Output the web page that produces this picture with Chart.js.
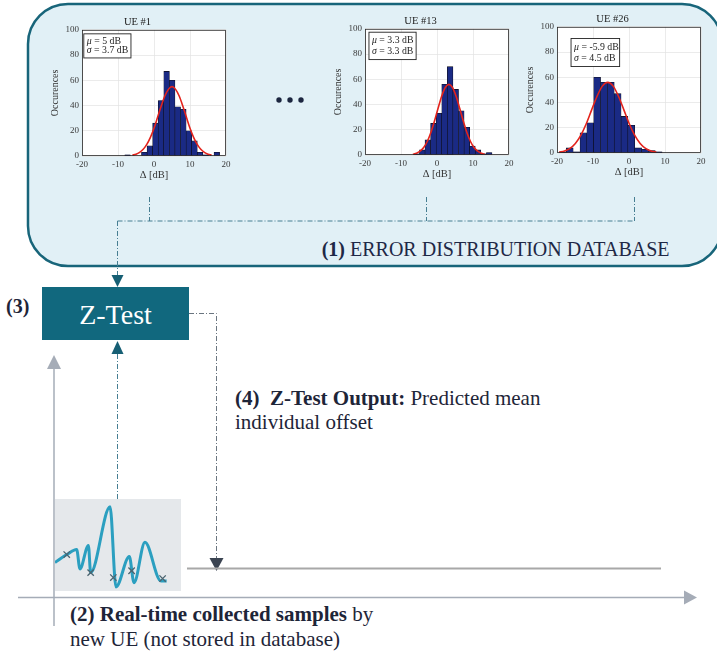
<!DOCTYPE html>
<html>
<head>
<meta charset="utf-8">
<script src="https://cdn.jsdelivr.net/npm/chart.js@4.4.1/dist/chart.umd.min.js"></script>
<style>
  html, body { margin: 0; padding: 0; background: #ffffff; }
  body { width: 717px; height: 656px; position: relative; overflow: hidden; font-family: 'Liberation Serif', serif; }
  svg, canvas { position: absolute; }
</style>
</head>
<body>
<svg width="717" height="656" style="left:0;top:0" font-family="Liberation Serif, serif">
  <!-- database panel -->
  <path d="M68 4 H682 A40 40 0 0 1 722 44 V226 A40 40 0 0 1 682 266 H68 A40 40 0 0 1 28 226 V44 A40 40 0 0 1 68 4 Z"
        fill="#e1f0f6" stroke="#18657a" stroke-width="2.5"/>
  <circle cx="279" cy="100" r="2.7" fill="#1c2640"/>
  <circle cx="290" cy="100" r="2.7" fill="#1c2640"/>
  <circle cx="301" cy="100" r="2.7" fill="#1c2640"/>
  <g stroke="#467e92" stroke-width="1" stroke-dasharray="5 2 1 2" fill="none">
    <path d="M149.5 197 V221"/>
    <path d="M426.5 197 V221"/>
    <path d="M634.5 197 V221"/>
    <path d="M117.5 221 H634.5"/>
    <path d="M117.5 221 V276"/>
    <path d="M117.5 354 V499"/>
  </g>
  <polygon points="111.5,275 123.5,275 117.5,287" fill="#165f74"/>
  <polygon points="111.5,354 123.5,354 117.5,341" fill="#165f74"/>
  <text x="321.7" y="256" font-size="20" fill="#1e2846"><tspan font-weight="bold">(1)</tspan> ERROR DISTRIBUTION DATABASE</text>

  <!-- Z-test block -->
  <rect x="42" y="287" width="147" height="53" fill="#11687e"/>
  <text x="115.5" y="324" font-size="28" fill="#ffffff" text-anchor="middle">Z-Test</text>
  <text x="6" y="313" font-size="20" font-weight="bold" fill="#1e2538">(3)</text>

  <!-- output path -->
  <path d="M189 313.5 H216.5 V558" stroke="#6a7580" stroke-width="1" stroke-dasharray="5 2 1 2" fill="none"/>
  <polygon points="209.5,558 223.5,558 216.5,571" fill="#3b4452"/>
  <path d="M187 568.5 H661" stroke="#a8a8a8" stroke-width="2"/>
  <text x="235" y="405" font-size="21" fill="#1e2538"><tspan font-weight="bold">(4)&#160; Z-Test Output:</tspan> Predicted mean</text>
  <text x="235" y="429" font-size="21" fill="#1e2538">individual offset</text>

  <!-- axes of the sample sketch -->
  <path d="M18 597.5 H684" stroke="#a5acb7" stroke-width="1.5"/>
  <polygon points="684,590.5 684,604.5 697,597.5" fill="#a5acb7"/>
  <path d="M54 368 V626" stroke="#a5acb7" stroke-width="1.5"/>
  <polygon points="47,369 61,369 54,355" fill="#a5acb7"/>
  <text x="70" y="621" font-size="21" fill="#1e2538"><tspan font-weight="bold">(2) Real-time collected samples</tspan> by</text>
  <text x="70" y="646" font-size="21" fill="#1e2538">new UE (not stored in database)</text>
</svg>

<canvas id="h0"></canvas>
<canvas id="h1"></canvas>
<canvas id="h2"></canvas>
<canvas id="wave"></canvas>

<script>
// ---------------- data ----------------
const ueTitles = ['UE #1', 'UE #13', 'UE #26'];
const ueMu = [5, 3.3, -5.9];
const ueSigma = [3.7, 3.3, 4.5];
const xTicks = [-20, -10, 0, 10, 20];
const yTicks = [0, 20, 40, 60, 80, 100];

const ue1BinCenters = [-7.35, -2.7, -1.15, 0.4, 1.95, 3.5, 5.05, 6.6, 8.15, 9.7, 11.25, 12.8, 14.35, 17.45];
const ue1Counts     = [1, 3, 8, 26, 44, 67, 60, 39, 37, 20, 12, 3, 1, 3];
const ue1FitX = [-6, -5, -4, -3, -2, -1, 0, 1, 2, 3, 4, 5, 6, 7, 8, 9, 10, 11, 12, 13, 14, 15, 16];
const ue1FitY = [0.7, 1.4, 2.9, 5.3, 9.2, 14.8, 22, 30.7, 39.6, 47.5, 52.8, 55, 52.8, 47.5, 39.6, 30.7, 22, 14.8, 9.2, 5.3, 2.9, 1.4, 0.7];

const ue13BinCenters = [-5.65, -4.1, -2.55, -1.0, 0.55, 2.1, 3.65, 5.2, 6.75, 8.3, 9.85, 11.4, 12.95, 14.5];
const ue13Counts     = [1, 4, 12, 25, 33, 56, 70, 52, 35, 22, 7, 4, 1, 2];
const ue13FitX = [-6.7, -5.7, -4.7, -3.7, -2.7, -1.7, -0.7, 0.3, 1.3, 2.3, 3.3, 4.3, 5.3, 6.3, 7.3, 8.3, 9.3, 10.3, 11.3, 12.3, 13.3];
const ue13FitY = [0.6, 1.4, 3.0, 5.9, 10.7, 17.8, 26.9, 37, 46.6, 53.5, 56, 53.5, 46.6, 37, 26.9, 17.8, 10.7, 5.9, 3.0, 1.4, 0.6];

const ue26BinCenters = [-18.35, -16.45, -14.55, -12.65, -10.75, -8.85, -6.95, -5.05, -3.15, -1.25, 0.65, 2.55, 4.45, 6.35, 8.25];
const ue26Counts     = [1, 4, 1, 16, 24, 60, 56, 56, 47, 29, 22, 4, 3, 2, 1];
const ue26FitX = [-19.4, -17.9, -16.4, -14.9, -13.4, -11.9, -10.4, -8.9, -7.4, -5.9, -4.4, -2.9, -1.4, 0.1, 1.6, 3.1, 4.6, 6.1, 7.6];
const ue26FitY = [0.6, 1.6, 3.7, 7.6, 14, 23, 34, 44.8, 53, 56, 53, 44.8, 34, 23, 14, 7.6, 3.7, 1.6, 0.6];

// real-time sample sketch (arbitrary units: sample time 0-100, level 0-100)
const waveT     = [0, 9.3, 17.2, 19.8, 26.5, 28.3, 43.7, 48.4, 59, 62.7, 71.4, 84, 88.6];
const waveLevel = [31, 39.6, 45, 24, 49.5, 20, 91.5, 4.4, 37.4, 9, 53, 11, 11];
const sampleT     = [9.3, 28.3, 46.3, 60.8, 85.4];
const sampleLevel = [39.6, 20, 14.6, 22, 13.5];

// ---------------- layout / style ----------------
const FONT = 'Liberation Serif';
const PW = 144, PH = 126, YW = 33, PR = 8, TH = 14, XH = 30;
const histPlace = [{ left: 82, top: 30 }, { left: 365, top: 29 }, { left: 557, top: 27 }];
const statBoxes = [
  { x0: -19.5, x1: -6.4, y0: 96.8, y1: 77.7 },
  { x0: -18.9, x1: -5.8, y0: 97.3, y1: 75.6 },
  { x0: -16.1, x1: -2.6, y0: 90.7, y1: 68.5 }
];
const histSets = [
  [ue1BinCenters, ue1Counts, ue1FitX, ue1FitY],
  [ue13BinCenters, ue13Counts, ue13FitX, ue13FitY],
  [ue26BinCenters, ue26Counts, ue26FitX, ue26FitY]
];

const histPlugin = {
  id: 'histDecor',
  beforeDraw(chart) {
    const a = chart.chartArea, ctx = chart.ctx;
    ctx.save();
    ctx.fillStyle = '#ffffff';
    ctx.fillRect(a.left, a.top, a.right - a.left, a.bottom - a.top);
    ctx.restore();
  },
  afterDatasetsDraw(chart, args, opts) {
    const a = chart.chartArea, ctx = chart.ctx;
    const xs = chart.scales.x, ys = chart.scales.y;
    ctx.save();
    ctx.strokeStyle = '#262626';
    ctx.lineWidth = 0.8;
    ctx.strokeRect(a.left + 0.5, a.top + 0.5, a.right - a.left - 1, a.bottom - a.top - 1);
    const b = opts.box;
    const bx0 = xs.getPixelForValue(b.x0), bx1 = xs.getPixelForValue(b.x1);
    const by0 = ys.getPixelForValue(b.y0), by1 = ys.getPixelForValue(b.y1);
    ctx.fillStyle = '#ffffff';
    ctx.fillRect(bx0, by0, bx1 - bx0, by1 - by0);
    ctx.lineWidth = 0.9;
    ctx.strokeStyle = '#222222';
    ctx.strokeRect(bx0, by0, bx1 - bx0, by1 - by0);
    ctx.fillStyle = '#222222';
    ctx.textBaseline = 'middle';
    const lines = [['\u03bc', ' = ' + opts.mu + ' dB'], ['\u03c3', ' = ' + opts.sigma + ' dB']];
    lines.forEach((ln, i) => {
      const y = by0 + (by1 - by0) * (i === 0 ? 0.3 : 0.7);
      let x = bx0 + 3;
      ctx.font = 'italic 9.8px ' + FONT;
      ctx.fillText(ln[0], x, y);
      x += ctx.measureText(ln[0]).width;
      ctx.font = '9.8px ' + FONT;
      ctx.fillText(ln[1], x, y);
    });
    ctx.restore();
  }
};

histSets.forEach((set, i) => {
  const [centers, counts, fitX, fitY] = set;
  const cv = document.getElementById('h' + i);
  const p = histPlace[i];
  cv.width = YW + PW + PR;
  cv.height = TH + PH + XH;
  cv.style.left = (p.left - YW) + 'px';
  cv.style.top = (p.top - TH) + 'px';
  new Chart(cv, {
    type: 'bar',
    data: {
      datasets: [
        {
          type: 'line',
          data: fitX.map((x, k) => ({ x: x, y: fitY[k] })),
          borderColor: '#e3231c',
          borderWidth: 1.6,
          pointRadius: 0,
          cubicInterpolationMode: 'monotone',
          order: 0
        },
        {
          type: 'bar',
          data: centers.map((x, k) => ({ x: x, y: counts[k] })),
          backgroundColor: '#1a2a85',
          borderColor: '#0d0d1a',
          borderWidth: 0.6,
          barPercentage: 1,
          categoryPercentage: 1,
          order: 1
        }
      ]
    },
    options: {
      responsive: false,
      animation: false,
      layout: { autoPadding: false, padding: { left: 0, right: PR, top: 0, bottom: 0 } },
      plugins: {
        legend: { display: false },
        tooltip: { enabled: false },
        title: {
          display: true,
          text: ueTitles[i],
          color: '#222222',
          font: { family: FONT, size: 10.5, weight: 'normal' },
          padding: { top: 0, bottom: 1.2 }
        },
        histDecor: { box: statBoxes[i], mu: ueMu[i], sigma: ueSigma[i] }
      },
      scales: {
        x: {
          type: 'linear',
          min: xTicks[0], max: xTicks[xTicks.length - 1],
          offset: false,
          afterBuildTicks: s => { s.ticks = xTicks.map(v => ({ value: v })); },
          afterFit: s => { s.height = XH; },
          grid: { color: '#e2e2e2', lineWidth: 0.7, drawTicks: false, offset: false },
          border: { display: false },
          ticks: { color: '#3a3a3a', font: { family: FONT, size: 9 }, padding: 3, maxRotation: 0 },
          title: { display: true, text: '\u0394 [dB]', color: '#333333', font: { family: FONT, size: 10.5 }, padding: { top: 0, bottom: 4.4 } }
        },
        y: {
          min: yTicks[0], max: yTicks[yTicks.length - 1],
          afterBuildTicks: s => { s.ticks = yTicks.map(v => ({ value: v })); },
          afterFit: s => { s.width = YW; },
          grid: { color: '#e2e2e2', lineWidth: 0.7, drawTicks: false },
          border: { display: false },
          ticks: { color: '#3a3a3a', font: { family: FONT, size: 9 }, padding: 3 },
          title: { display: true, text: 'Occurences', color: '#333333', font: { family: FONT, size: 10 }, padding: { top: 0, bottom: 0 } }
        }
      }
    },
    plugins: [histPlugin]
  });
});

// sample sketch
(function () {
  const cv = document.getElementById('wave');
  cv.width = 126; cv.height = 92;
  cv.style.left = '55px'; cv.style.top = '499px';
  cv.style.background = '#e5e8eb';
  new Chart(cv, {
    type: 'scatter',
    data: {
      datasets: [
        {
          data: waveT.map((t, k) => ({ x: t, y: waveLevel[k] })),
          showLine: true,
          borderColor: '#2b9fc0',
          borderWidth: 3,
          pointRadius: 0,
          cubicInterpolationMode: 'monotone',
          clip: false,
          order: 1
        },
        {
          data: sampleT.map((t, k) => ({ x: t, y: sampleLevel[k] })),
          showLine: false,
          pointStyle: 'crossRot',
          pointRadius: 4.5,
          borderColor: '#4a6470',
          borderWidth: 1.3,
          clip: false,
          order: 0
        }
      ]
    },
    options: {
      responsive: false,
      animation: false,
      layout: { autoPadding: false, padding: 0 },
      plugins: { legend: { display: false }, tooltip: { enabled: false } },
      scales: {
        x: { type: 'linear', display: false, min: 0, max: 100 },
        y: { display: false, min: 0, max: 100 }
      }
    }
  });
})();
</script>
</body>
</html>
